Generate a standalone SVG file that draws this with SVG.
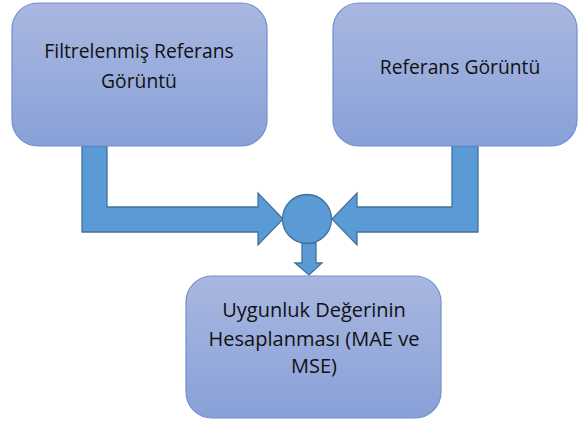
<svg xmlns="http://www.w3.org/2000/svg" width="578" height="421" viewBox="0 0 578 421">
<defs>
<linearGradient id="g" x1="0" y1="0" x2="0" y2="1">
<stop offset="0" stop-color="#a9b7e0"/>
<stop offset="1" stop-color="#89a1d8"/>
</linearGradient>
<style>
.box{fill:url(#g);stroke:#6f90cf;stroke-width:1.2}
.arr{fill:#5b9bd5;stroke:#41719c;stroke-width:1.3}
.t{font-family:"Open Sans","Liberation Sans",Arial,sans-serif;fill:#111111;text-anchor:middle}
</style>
</defs>
<rect width="578" height="421" fill="#ffffff"/>
<g id="connectors">
<path class="arr" d="M82,146 H107 V207 H258 V193 L283,219 L258,245 V232 H82 Z"/>
<path class="arr" d="M478,146 H452 V207 H357 V193 L332,219 L357,245 V232 H478 Z"/>
<path class="arr" d="M302,243 H316 V263 H322 L309,275 L295,263 H302 Z"/>
</g>
<g id="node-circle">
<circle class="arr" cx="307" cy="219" r="24.5"/>
</g>
<g id="node-filtered">
<rect class="box" x="12" y="3" width="255" height="143" rx="26"/>
<text class="t" font-size="19.3" x="139" y="58">Filtrelenmiş Referans</text>
<text class="t" font-size="19.3" x="139" y="88">Görüntü</text>
</g>
<g id="node-reference">
<rect class="box" x="333" y="3" width="244" height="143" rx="26"/>
<text class="t" font-size="19.3" x="460" y="74">Referans Görüntü</text>
</g>
<g id="node-fitness">
<rect class="box" x="186" y="276" width="255" height="142" rx="26"/>
<text class="t" font-size="20" x="314" y="317">Uygunluk Değerinin</text>
<text class="t" font-size="20" x="314" y="346">Hesaplanması (MAE ve</text>
<text class="t" font-size="20" x="314" y="373">MSE)</text>
</g>
</svg>
